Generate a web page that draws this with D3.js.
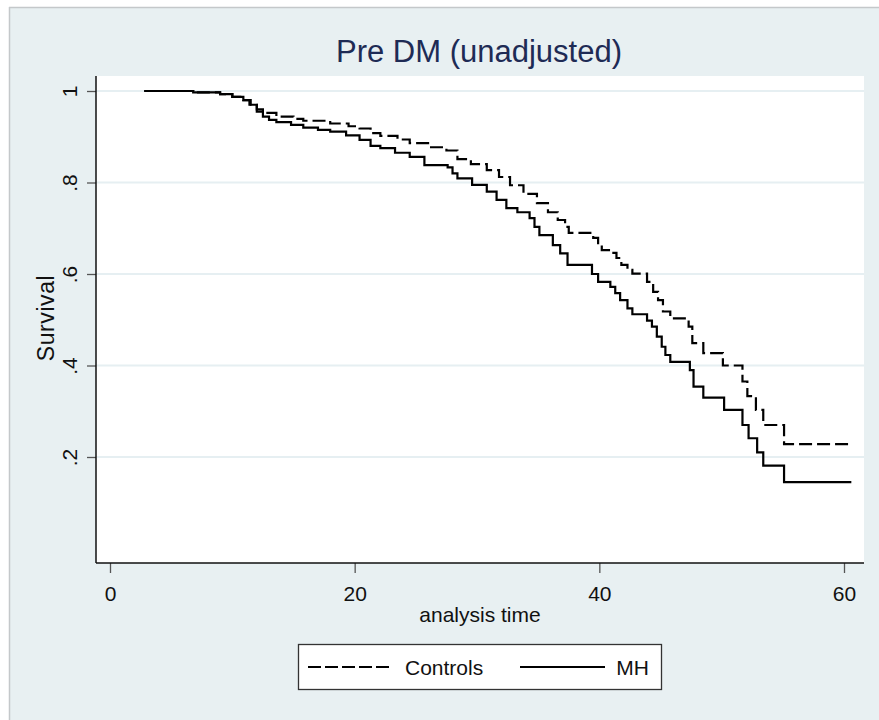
<!DOCTYPE html>
<html>
<head>
<meta charset="utf-8">
<script src="https://cdn.jsdelivr.net/npm/d3@7"></script>
<style>
  html, body { margin: 0; padding: 0; background: #ffffff; }
  svg { display: block; }
  text { font-family: "Liberation Sans", Arial, sans-serif; }
</style>
</head>
<body>
<div id="chart"></div>
<script>
// ---- Data ----
const title = "Pre DM (unadjusted)";
const xLabel = "analysis time";
const yLabel = "Survival";
const xTicks = [0, 20, 40, 60];
const yTicks = [0.2, 0.4, 0.6, 0.8, 1];
const yTickLabels = [".2", ".4", ".6", ".8", "1"];
const seriesNames = ["Controls", "MH"];

// Kaplan-Meier steps: time at which survival changes, survival after change
const controlsTime = [2.8, 6.8, 9.0, 10.0, 10.9, 11.5, 12.0, 12.5, 13.6, 15.0, 15.8, 18.0, 19.5, 20.4, 21.3, 22.1, 23.5, 24.5, 26.0, 27.5, 28.4, 29.5, 30.8, 31.8, 32.7, 33.8, 34.9, 35.8, 36.6, 37.2, 37.5, 39.5, 39.9, 40.2, 40.9, 41.4, 41.8, 42.3, 42.7, 43.9, 44.4, 44.8, 45.2, 45.8, 47.3, 47.6, 48.5, 50.1, 51.7, 52.1, 52.8, 53.4, 55.1, 60.6];
const controlsSurv = [1.0, 0.997, 0.993, 0.987, 0.980, 0.970, 0.960, 0.952, 0.944, 0.939, 0.935, 0.929, 0.923, 0.918, 0.908, 0.902, 0.894, 0.886, 0.877, 0.870, 0.851, 0.840, 0.827, 0.812, 0.794, 0.775, 0.755, 0.735, 0.718, 0.703, 0.690, 0.679, 0.665, 0.652, 0.646, 0.635, 0.620, 0.609, 0.601, 0.583, 0.561, 0.543, 0.518, 0.503, 0.485, 0.449, 0.427, 0.400, 0.365, 0.333, 0.303, 0.270, 0.228, 0.228];

const mhTime = [2.8, 6.8, 9.0, 10.0, 10.9, 11.4, 12.0, 12.5, 13.0, 13.6, 14.8, 15.8, 17.0, 18.0, 19.3, 20.4, 21.3, 22.1, 23.3, 24.5, 25.7, 27.6, 28.0, 28.4, 29.6, 30.8, 31.6, 32.4, 33.3, 34.3, 34.7, 35.1, 36.2, 36.8, 37.4, 39.4, 39.9, 40.9, 41.3, 41.7, 42.3, 42.7, 43.9, 44.3, 44.7, 45.1, 45.4, 45.8, 47.4, 47.7, 48.5, 50.2, 51.7, 52.2, 52.9, 53.4, 55.1, 60.6];
const mhSurv = [1.0, 0.997, 0.993, 0.987, 0.980, 0.970, 0.955, 0.944, 0.937, 0.932, 0.926, 0.920, 0.915, 0.911, 0.903, 0.893, 0.880, 0.875, 0.865, 0.856, 0.838, 0.833, 0.820, 0.809, 0.795, 0.780, 0.762, 0.744, 0.735, 0.722, 0.703, 0.685, 0.663, 0.645, 0.620, 0.600, 0.583, 0.572, 0.558, 0.543, 0.525, 0.512, 0.498, 0.485, 0.463, 0.441, 0.423, 0.408, 0.390, 0.354, 0.330, 0.303, 0.270, 0.241, 0.210, 0.181, 0.145, 0.145];

// ---- Layout ----
const W = 879, H = 720;
const plot = { left: 96, right: 864, top: 76, bottom: 563 };
const bg = "#e8f0f2";

const svg = d3.select("#chart").append("svg")
  .attr("width", W).attr("height", H);

// outer background
svg.append("rect").attr("x", 0).attr("y", 0).attr("width", W).attr("height", H).attr("fill", "#ffffff");
svg.append("rect").attr("x", 9).attr("y", 7).attr("width", W - 9).attr("height", H - 7)
  .attr("fill", bg);
svg.append("line").attr("x1", 9).attr("x2", W).attr("y1", 7.5).attr("y2", 7.5)
  .attr("stroke", "#c4c8ca").attr("stroke-width", 1.5);
svg.append("line").attr("x1", 9.5).attr("x2", 9.5).attr("y1", 7).attr("y2", H)
  .attr("stroke", "#c4c8ca").attr("stroke-width", 1.5);

// scales
const x = d3.scaleLinear().domain([0, 60]).range([110, 844]);
const y = d3.scaleLinear().domain([0.2, 1]).range([457, 91]);

// plot region
svg.append("rect").attr("x", plot.left).attr("y", plot.top)
  .attr("width", plot.right - plot.left).attr("height", plot.bottom - plot.top)
  .attr("fill", "#ffffff");

// gridlines
svg.append("g").selectAll("line").data(yTicks).join("line")
  .attr("x1", plot.left).attr("x2", plot.right)
  .attr("y1", d => y(d)).attr("y2", d => y(d))
  .attr("stroke", "#e6eff2").attr("stroke-width", 2);

// Y axis
const yAxis = d3.axisLeft(y).tickValues(yTicks)
  .tickFormat((d, i) => yTickLabels[i]).tickSize(9).tickPadding(10);
const gy = svg.append("g").attr("transform", `translate(${plot.left},0)`).call(yAxis);
gy.select(".domain").remove();
gy.selectAll(".tick line").attr("stroke", "#555").attr("stroke-width", 1.3);
gy.selectAll(".tick text")
  .attr("font-size", 21).attr("fill", "#111")
  .attr("text-anchor", "middle")
  .attr("x", 0).attr("dy", 0)
  .attr("transform", "translate(-25,0) rotate(-90)")
  .attr("dominant-baseline", "middle");
svg.append("line").attr("x1", plot.left).attr("x2", plot.left)
  .attr("y1", plot.top).attr("y2", plot.bottom)
  .attr("stroke", "#111").attr("stroke-width", 1.5);

// X axis
const xAxis = d3.axisBottom(x).tickValues(xTicks).tickSize(10).tickPadding(13);
const gx = svg.append("g").attr("transform", `translate(0,${plot.bottom})`).call(xAxis);
gx.select(".domain").remove();
gx.selectAll(".tick line").attr("stroke", "#555").attr("stroke-width", 1.3);
gx.selectAll(".tick text").attr("font-size", 21).attr("fill", "#111");
svg.append("line").attr("x1", plot.left).attr("x2", plot.right)
  .attr("y1", plot.bottom).attr("y2", plot.bottom)
  .attr("stroke", "#111").attr("stroke-width", 1.5);

// axis titles
svg.append("text").attr("x", 480).attr("y", 622)
  .attr("text-anchor", "middle").attr("font-size", 21).attr("fill", "#111")
  .text(xLabel);
svg.append("text")
  .attr("transform", `translate(54,318) rotate(-90)`)
  .attr("text-anchor", "middle").attr("font-size", 23).attr("letter-spacing", 0.6).attr("fill", "#111")
  .text(yLabel);

// title
svg.append("text").attr("x", 479).attr("y", 62)
  .attr("text-anchor", "middle").attr("font-size", 31).attr("fill", "#1e2b55")
  .text(title);

// curves
const line = d3.line().x(d => x(d[0])).y(d => y(d[1])).curve(d3.curveStepAfter);
const controlsData = controlsTime.map((t, i) => [t, controlsSurv[i]]);
const mhData = mhTime.map((t, i) => [t, mhSurv[i]]);

svg.append("path").datum(controlsData).attr("d", line)
  .attr("fill", "none").attr("stroke", "#000").attr("stroke-width", 2.2)
  .attr("stroke-dasharray", "13,5");
svg.append("path").datum(mhData).attr("d", line)
  .attr("fill", "none").attr("stroke", "#000").attr("stroke-width", 2.2);

// legend
const lg = svg.append("g");
lg.append("rect").attr("x", 298.5).attr("y", 644.5).attr("width", 363).attr("height", 45)
  .attr("fill", "#ffffff").attr("stroke", "#333").attr("stroke-width", 1.3);
lg.append("line").attr("x1", 308).attr("x2", 392).attr("y1", 667).attr("y2", 667)
  .attr("stroke", "#000").attr("stroke-width", 2.2).attr("stroke-dasharray", "13,4");
lg.append("text").attr("x", 405).attr("y", 675).attr("font-size", 21).attr("fill", "#111")
  .text(seriesNames[0]);
lg.append("line").attr("x1", 520).attr("x2", 605).attr("y1", 667).attr("y2", 667)
  .attr("stroke", "#000").attr("stroke-width", 2.2);
lg.append("text").attr("x", 649).attr("y", 675).attr("text-anchor", "end")
  .attr("font-size", 21).attr("fill", "#111")
  .text(seriesNames[1]);
</script>
</body>
</html>
